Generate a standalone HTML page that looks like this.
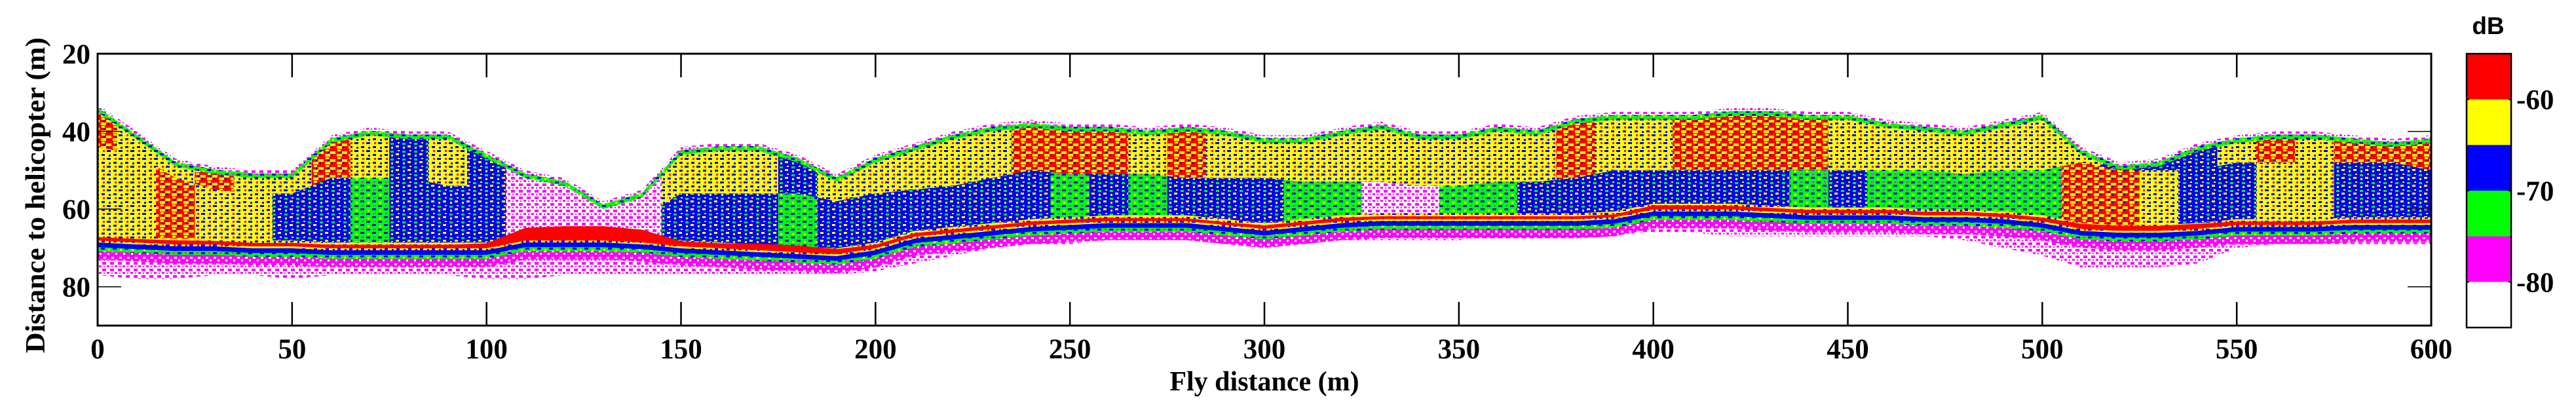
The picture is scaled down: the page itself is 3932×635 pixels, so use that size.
<!DOCTYPE html>
<html><head><meta charset="utf-8"><style>
html,body{margin:0;padding:0;background:#fff;}
svg{display:block;}
text{font-family:"Liberation Serif",serif;font-weight:bold;fill:#000;}
</style></head><body>
<svg id="chart" width="3932" height="635" viewBox="0 0 3932 635" xmlns="http://www.w3.org/2000/svg">
<defs>
<clipPath id="plotclip"><rect x="149" y="82" width="3562" height="415"/></clipPath>
<pattern id="yelspeck" width="18" height="12" patternUnits="userSpaceOnUse">
<rect width="18" height="12" fill="#FFFF00"/><rect x="1" y="1" width="6" height="3" fill="#0000FF"/><rect x="11" y="7" width="5" height="3" fill="#0000FF"/><rect x="13" y="1" width="3" height="3" fill="#FF0000"/><rect x="4" y="8" width="3" height="3" fill="#0000FF"/>
</pattern>
<pattern id="redspeck" width="18" height="12" patternUnits="userSpaceOnUse">
<rect width="18" height="12" fill="#FF0000"/><rect x="0" y="3" width="8" height="4" fill="#FFFF00"/><rect x="10" y="7" width="8" height="4" fill="#FFFF00"/><rect x="1" y="8" width="3" height="2" fill="#0000FF"/><rect x="11" y="0" width="5" height="3" fill="#FFFF00"/><rect x="14" y="4" width="2" height="2" fill="#0000FF"/>
</pattern>
<pattern id="bluespeck" width="18" height="12" patternUnits="userSpaceOnUse">
<rect width="18" height="12" fill="#0000FF"/><rect x="2" y="2" width="5" height="3" fill="#00FF00"/><rect x="10" y="6" width="5" height="3" fill="#FFFF00"/><rect x="13" y="1" width="3" height="2" fill="#FFFF00"/><rect x="3" y="8" width="3" height="3" fill="#FFFF00"/>
</pattern>
<pattern id="greenspeck" width="18" height="12" patternUnits="userSpaceOnUse">
<rect width="18" height="12" fill="#00FF00"/><rect x="1" y="1" width="6" height="3" fill="#0000FF"/><rect x="10" y="6" width="6" height="3" fill="#0000FF"/><rect x="12" y="1" width="3" height="2" fill="#FF00FF"/><rect x="3" y="8" width="3" height="3" fill="#FFFF00"/>
</pattern>
<pattern id="pinkspeck" width="12" height="10" patternUnits="userSpaceOnUse">
<rect width="12" height="10" fill="#FF00FF"/><rect x="2" y="2" width="4" height="3" fill="#FFFFFF"/><rect x="8" y="6" width="3" height="3" fill="#FFFFFF"/>
</pattern>
<pattern id="pinksparse" width="12" height="10" patternUnits="userSpaceOnUse">
<rect width="12" height="10" fill="#FFFFFF"/><rect x="0" y="0" width="6" height="4" fill="#FF00FF"/><rect x="7" y="5" width="4" height="3" fill="#FF00FF"/><rect x="2" y="6" width="2" height="2" fill="#FF00FF"/>
</pattern>
</defs>
<g id="heat" clip-path="url(#plotclip)"></g>
<g id="axes"></g>
<g id="cbar"></g>
<text x="0" y="0" transform="translate(68,298) rotate(-90)" text-anchor="middle" font-size="42" textLength="482" lengthAdjust="spacingAndGlyphs">Distance to helicopter (m)</text>
<text x="1930" y="596" text-anchor="middle" font-size="42">Fly distance (m)</text>
<text x="3798" y="52" text-anchor="middle" font-size="37" style="font-family:'Liberation Sans',sans-serif;font-weight:bold">dB</text>
</svg>
<script>
// distance along track (m)
const dist = [0,10,20,30,40,50,60,70,80,90,100,110,120,130,140,150,160,170,180,190,200,210,220,230,240,250,260,270,280,290,300,310,320,330,340,350,360,370,380,390,400,410,420,430,440,450,460,470,480,490,500,510,520,530,540,550,560,570,580,590,600];
// top of echo (m)
const topEcho = [33,40,47,49,50,50,41,39,40,40,45,50,52,58,55,44,43,43,46,51,46,43,40,38,37,38,38,39,38,39,41,41,39,37.5,40,40,38,39,36,35,35,35,34,34,35,35,37,38,39,37,35,44,48,47,43,41,40,40,41,42,41];
// bottom of strong upper canopy (m)
const canopyBottom = [44,46,52,55,56,56,52,52,52,54,54,60,60,62,62,56,56,56,56,58,56,55,54,52,50,51,51,51,52,52,52,53,53,53,54,54,53,53,52,50,50,50,50,50,50,50,50,50,51,50,50,48,50,50,50,48,48,48,48,48,50];
// ground surface echo depth (m)
const surface = [68,68.5,69,69,69.5,69.5,70,70,70,70,70,68,68,68,68.5,69.5,70,70.5,71,71.5,70,67,66,65,64,63.5,63,63,63,64,65,64,63,62.5,62.5,62.5,62.5,62.5,62.5,62,60,60,60,60.5,61,61,61,61.5,61.5,62,63,65,65.5,65.5,65,64,64,64,63.5,63.5,63.5];
// bottom of echo (m)
const bottomEcho = [77,78,78,77,77,78,77,77,77,77,78,78,77,77,77,77,77,77,77,77,76,74,72,70,69,69,68,68,68,69,70,69,68,68,68,68,67,67,67,66.5,66,66,67,67,67,67,67,67,68,70,72,75,75,75,74,70,69,69,69,69,69];
// upper canopy level class (0 pink,1 green,2 blue,3 yellow,4 red)
const upperLevel = [4,3,3,4,3,3,4,3,2,3,2,0,0,0,0,3,3,3,2,3,3,3,3,3,4,4,4,3,4,3,3,3,3,3,3,3,3,3,4,3,3,4,4,4,4,3,3,3,3,3,3,3,2,2,2,3,4,3,4,4,4];
// lower canopy level class
const lowerLevel = [3,3,4,3,3,2,2,1,2,2,2,0,0,0,0,2,2,2,1,2,2,2,2,2,2,1,2,1,2,2,2,1,1,0,0,1,1,2,2,2,2,2,2,2,1,2,1,1,1,1,1,4,4,3,2,2,3,3,2,2,2];
// ground echo strong (red) thickness (m)
const groundRed = [1,1,1.2,1,1,1,1,1,1,1,1.5,4,4.5,4.5,4,1.5,1.5,2,2,1.5,1,1,1,1,1,1,1,0.8,0.8,0.8,1,1,1,0.8,0.8,0.8,0.8,0.8,0.8,0.8,1.2,1.2,1,1,1,1,1,1,1,1,1,1.5,1.5,1.5,1.5,1,1,1,1,1,1];
const xTicks = [0,50,100,150,200,250,300,350,400,450,500,550,600];
const yTicks = [20,40,60,80];
const cbarColors = ["#FF0000","#FFFF00","#0000FF","#00FF00","#FF00FF","#FFFFFF"];
const cbarLabels = ["-60","-70","-80"];

const NS="http://www.w3.org/2000/svg";
const X0=149,X1=3711,Y0=82,Y1=497;
const xs=d=>X0+(d-0)/600*(X1-X0);
const ys=m=>Y0+(m-20)/70*(Y1-Y0);
const levelFill=["url(#pinksparse)","url(#greenspeck)","url(#bluespeck)","url(#yelspeck)","url(#redspeck)"];
const heat=document.getElementById('heat');
function mk(tag,attrs,parent){const e=document.createElementNS(NS,tag);for(const k in attrs)e.setAttribute(k,attrs[k]);parent.appendChild(e);return e;}

function bandPoly(topF,botF,i0,i1){
  const up=[],dn=[];
  for(let i=i0;i<=i1;i++){up.push(xs(dist[i])+','+ys(topF(i)));dn.unshift(xs(dist[i])+','+ys(botF(i)));}
  return up.concat(dn).join(' ');
}
function colBand(i,topF,botF,fill,name){
  const n=dist.length;
  const l=i>0?i-1:i, r=i<n-1?i+1:i;
  const xl=xs((dist[i]+dist[l])/2), xr=xs((dist[i]+dist[r])/2), xc=xs(dist[i]);
  const tl=ys((topF(i)+topF(l))/2), tr=ys((topF(i)+topF(r))/2), tc=ys(topF(i));
  const bl=ys((botF(i)+botF(l))/2), br=ys((botF(i)+botF(r))/2), bc=ys(botF(i));
  const p=mk('polygon',{points:`${xl},${tl} ${xc},${tc} ${xr},${tr} ${xr},${br} ${xc},${bc} ${xl},${bl}`,fill:fill},heat);
  
  
}
const N=dist.length-1;
let p;
p=mk('polygon',{points:bandPoly(i=>topEcho[i],i=>bottomEcho[i],0,N),fill:"url(#pinksparse)"},heat);


p=mk('polygon',{points:bandPoly(i=>surface[i]+2,i=>surface[i]+5,0,N),fill:"url(#pinkspeck)"},heat);


p=mk('polygon',{points:bandPoly(i=>topEcho[i]+0.8,i=>surface[i]+2.8,0,N),fill:"url(#greenspeck)"},heat);


for(let i=0;i<=N;i++){
  colBand(i,j=>topEcho[j]+2,j=>canopyBottom[j],levelFill[upperLevel[i]],'upper-canopy-cell');
  colBand(i,j=>canopyBottom[j],j=>surface[j]-1.2,levelFill[lowerLevel[i]],'lower-canopy-cell');
}
p=mk('polygon',{points:bandPoly(i=>surface[i]+0.5,i=>surface[i]+1.8,0,N),fill:"#0000FF"},heat);


p=mk('polygon',{points:bandPoly(i=>surface[i]-1.4,i=>surface[i]+0.6,0,N),fill:"url(#yelspeck)"},heat);


p=mk('polygon',{points:bandPoly(i=>surface[i]-groundRed[i]*0.8,i=>surface[i]+0.1,0,N),fill:"#FF0000"},heat);



// axes
const axes=document.getElementById('axes');
const box=mk('rect',{x:X0,y:Y0,width:X1-X0,height:Y1-Y0,fill:"none",stroke:"#000","stroke-width":3},axes);


xTicks.forEach(v=>{
  const x=xs(v);
  mk('line',{x1:x,y1:Y0,x2:x,y2:Y0+36,stroke:"#000","stroke-width":2.5},axes);
  mk('line',{x1:x,y1:Y1,x2:x,y2:Y1-36,stroke:"#000","stroke-width":2.5},axes);
  const t=mk('text',{x:x,y:547,"text-anchor":"middle","font-size":43},axes);
  t.textContent=v;
  
  
});
yTicks.forEach(v=>{
  const y=ys(v);
  mk('line',{x1:X0,y1:y,x2:X0+36,y2:y,stroke:"#000","stroke-width":1.5},axes);
  mk('line',{x1:X1,y1:y,x2:X1-36,y2:y,stroke:"#000","stroke-width":1.5},axes);
  const t=mk('text',{x:138,y:y+15,"text-anchor":"end","font-size":43},axes);
  t.textContent=v;
  
  
});

// colorbar
const cb=document.getElementById('cbar');
const CX0=3765,CX1=3833,CY0=82,CY1=500,seg=(CY1-CY0)/cbarColors.length;
cbarColors.forEach((c,i)=>{
  const r=mk('rect',{x:CX0,y:CY0+i*seg,width:CX1-CX0,height:seg+0.5,fill:c},cb);
  
  
});
mk('rect',{x:CX0,y:CY0,width:CX1-CX0,height:CY1-CY0,fill:"none",stroke:"#000","stroke-width":2.5},cb);
cbarLabels.forEach((s,k)=>{
  const y=CY0+(2*k+1)*seg;
  mk('line',{x1:CX1-4,y1:y,x2:CX1,y2:y,stroke:"#000","stroke-width":2},cb);
  mk('line',{x1:CX0,y1:y,x2:CX0+4,y2:y,stroke:"#000","stroke-width":2},cb);
  const t=mk('text',{x:3841,y:y+15,"font-size":43},cb);
  t.textContent=s;
  
  
});
</script>
</body></html>
